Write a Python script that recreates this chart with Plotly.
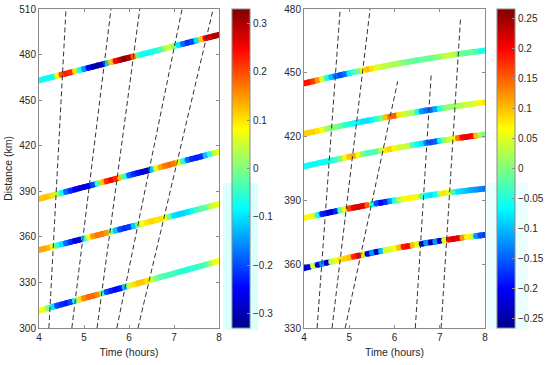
import plotly.graph_objects as go
from plotly.colors import sample_colorscale

# ---------------- data ----------------
time_h = [4.0, 4.1, 4.2, 4.3, 4.4, 4.5, 4.6, 4.7, 4.8, 4.9,
          5.0, 5.1, 5.2, 5.3, 5.4, 5.5, 5.6, 5.7, 5.8, 5.9,
          6.0, 6.1, 6.2, 6.3, 6.4, 6.5, 6.6, 6.7, 6.8, 6.9,
          7.0, 7.1, 7.2, 7.3, 7.4, 7.5, 7.6, 7.7, 7.8, 7.9, 8.0]

# left panel: distances (km)
left_d1 = [463.0, 463.8, 464.5, 465.3, 466.0, 466.8, 467.5, 468.3, 469.0, 469.8,
           470.5, 471.3, 472.0, 472.8, 473.5, 474.3, 475.0, 475.8, 476.5, 477.3,
           478.0, 478.8, 479.5, 480.3, 481.0, 481.8, 482.5, 483.3, 484.0, 484.8,
           485.5, 486.3, 487.0, 487.8, 488.5, 489.3, 490.0, 490.8, 491.5, 492.3, 493.0]
left_d2 = [385.0, 385.8, 386.6, 387.3, 388.1, 388.9, 389.7, 390.4, 391.2, 392.0,
           392.8, 393.5, 394.3, 395.1, 395.9, 396.6, 397.4, 398.2, 399.0, 399.7,
           400.5, 401.3, 402.1, 402.8, 403.6, 404.4, 405.2, 405.9, 406.7, 407.5,
           408.3, 409.0, 409.8, 410.6, 411.4, 412.1, 412.9, 413.7, 414.5, 415.2, 416.0]
left_d3 = [351.3, 352.1, 352.8, 353.6, 354.3, 355.1, 355.8, 356.6, 357.4, 358.1,
           358.9, 359.6, 360.4, 361.1, 361.9, 362.7, 363.4, 364.2, 364.9, 365.7,
           366.5, 367.2, 368.0, 368.7, 369.5, 370.2, 371.0, 371.8, 372.5, 373.3,
           374.0, 374.8, 375.5, 376.3, 377.1, 377.8, 378.6, 379.3, 380.1, 380.8, 381.6]
left_d4 = [311.4, 312.2, 313.0, 313.9, 314.7, 315.5, 316.3, 317.1, 317.9, 318.8,
           319.6, 320.4, 321.2, 322.0, 322.9, 323.7, 324.5, 325.3, 326.1, 326.9,
           327.8, 328.6, 329.4, 330.2, 331.0, 331.8, 332.7, 333.5, 334.3, 335.1,
           335.9, 336.8, 337.6, 338.4, 339.2, 340.0, 340.8, 341.7, 342.5, 343.3, 344.1]

# left panel: colour values
left_c1 = [-0.08, -0.08, -0.08, -0.08, 0.08, 0.20, 0.23, 0.22, 0.10, -0.07,
           -0.15, -0.25, -0.30, -0.31, -0.28, -0.12, 0.12, 0.25, 0.30, 0.32,
           0.30, 0.18, -0.04, -0.07, -0.08, -0.07, -0.06, -0.04, 0.02, 0.06,
           0.00, -0.10, -0.18, -0.22, -0.20, -0.10, 0.12, 0.25, 0.28, 0.30, 0.30]
left_c2 = [0.12, 0.12, 0.12, 0.10, 0.03, -0.08, -0.18, -0.22, -0.26, -0.28,
           -0.27, -0.26, -0.20, -0.05, 0.12, 0.22, 0.25, 0.22, 0.12, -0.05,
           -0.18, -0.22, -0.24, -0.28, -0.29, -0.12, 0.06, 0.14, 0.17, 0.18,
           0.17, 0.08, -0.06, -0.18, -0.22, -0.23, -0.22, -0.12, -0.05, 0.04, 0.08]
left_c3 = [0.14, 0.14, 0.13, 0.07, -0.05, -0.10, -0.18, -0.22, -0.27, -0.27,
           -0.08, 0.07, 0.15, 0.17, 0.17, 0.15, 0.00, -0.12, -0.20, -0.22,
           -0.21, -0.12, 0.00, 0.08, 0.10, 0.11, 0.10, 0.10, 0.08, -0.02,
           -0.10, -0.11, -0.11, -0.10, -0.08, -0.04, -0.03, -0.02, 0.03, 0.06, 0.07]
left_c4 = [0.08, 0.08, 0.00, -0.10, -0.20, -0.22, -0.23, -0.20, -0.05, 0.10,
           0.16, 0.18, 0.18, 0.16, -0.02, -0.20, -0.23, -0.25, -0.24, -0.12,
           0.05, 0.10, 0.12, 0.12, 0.10, 0.05, 0.00, -0.03, -0.03, -0.04,
           -0.04, -0.05, -0.06, -0.06, -0.05, -0.05, -0.04, -0.03, 0.02, 0.07, 0.08]

# right panel: distances (km)
right_d1 = [445.0, 445.5, 446.0, 446.5, 447.0, 447.5, 448.0, 448.4, 448.9, 449.4,
            449.8, 450.3, 450.7, 451.1, 451.6, 452.0, 452.4, 452.8, 453.2, 453.6,
            454.0, 454.4, 454.8, 455.1, 455.5, 455.9, 456.2, 456.6, 456.9, 457.2,
            457.6, 457.9, 458.2, 458.5, 458.8, 459.1, 459.4, 459.7, 460.0, 460.2, 460.5]
right_d2 = [421.3, 421.8, 422.2, 422.7, 423.2, 423.6, 424.1, 424.5, 425.0, 425.4,
            425.8, 426.2, 426.7, 427.1, 427.5, 427.9, 428.3, 428.7, 429.0, 429.4,
            429.8, 430.2, 430.5, 430.9, 431.2, 431.6, 431.9, 432.3, 432.6, 432.9,
            433.2, 433.5, 433.8, 434.1, 434.4, 434.7, 435.0, 435.3, 435.6, 435.8, 436.1]
right_d3 = [406.0, 406.5, 406.9, 407.4, 407.9, 408.3, 408.8, 409.2, 409.6, 410.1,
            410.5, 410.9, 411.3, 411.8, 412.2, 412.6, 413.0, 413.4, 413.7, 414.1,
            414.5, 414.9, 415.2, 415.6, 416.0, 416.3, 416.7, 417.0, 417.3, 417.7,
            418.0, 418.3, 418.6, 419.0, 419.3, 419.6, 419.9, 420.2, 420.4, 420.7, 421.0]
right_d4 = [381.7, 382.2, 382.7, 383.1, 383.6, 384.0, 384.5, 384.9, 385.4, 385.8,
            386.2, 386.6, 387.0, 387.4, 387.8, 388.2, 388.6, 388.9, 389.3, 389.7,
            390.0, 390.3, 390.7, 391.0, 391.3, 391.6, 391.9, 392.2, 392.5, 392.8,
            393.1, 393.4, 393.6, 393.9, 394.1, 394.4, 394.6, 394.9, 395.1, 395.3, 395.5]
right_d5 = [358.1, 358.6, 359.2, 359.7, 360.2, 360.7, 361.2, 361.7, 362.2, 362.6,
            363.1, 363.6, 364.0, 364.5, 364.9, 365.3, 365.8, 366.2, 366.6, 367.0,
            367.4, 367.8, 368.2, 368.5, 368.9, 369.3, 369.6, 370.0, 370.3, 370.6,
            371.0, 371.3, 371.6, 371.9, 372.2, 372.5, 372.8, 373.0, 373.3, 373.5, 373.8]

# right panel: colour values
right_c1 = [0.19, 0.19, 0.17, 0.12, 0.05, -0.05, -0.10, -0.14, -0.16, -0.14,
            -0.07, -0.03, -0.01, 0.07, 0.10, 0.08, 0.05, 0.04, 0.03, 0.03,
            0.02, 0.02, 0.00, -0.01, -0.01, -0.02, -0.01, -0.01, -0.01, 0.00,
            0.01, 0.03, 0.04, 0.03, 0.00, -0.01, -0.02, -0.01, -0.03, -0.05, -0.05]
right_c2 = [0.09, 0.09, 0.09, 0.08, 0.06, 0.02, 0.00, 0.00, -0.01, -0.04,
            -0.05, -0.06, -0.07, -0.08, -0.08, -0.07, -0.04, -0.01, 0.10, 0.14,
            0.15, 0.08, 0.04, 0.03, 0.02, -0.05, -0.12, -0.14, -0.14, -0.11,
            -0.05, 0.00, 0.01, 0.01, 0.02, 0.03, 0.04, 0.04, 0.05, 0.07, 0.08]
right_c3 = [-0.06, -0.06, -0.06, -0.06, -0.06, -0.06, -0.05, -0.03, -0.01, 0.07,
            0.10, 0.11, 0.06, 0.00, -0.03, -0.03, -0.02, 0.03, 0.08, 0.09,
            0.07, 0.04, 0.04, 0.03, -0.03, -0.06, -0.08, -0.13, -0.16, -0.15,
            -0.07, 0.01, 0.04, 0.06, 0.14, 0.20, 0.21, 0.20, 0.10, 0.02, -0.01]
right_c4 = [0.07, 0.07, 0.05, -0.06, -0.18, -0.21, -0.22, -0.18, -0.02, 0.07,
            0.17, 0.21, 0.22, 0.21, 0.15, -0.05, -0.16, -0.20, -0.18, -0.12,
            -0.05, 0.03, 0.06, 0.07, 0.07, 0.06, -0.02, -0.07, -0.08, -0.06,
            0.03, 0.08, 0.05, -0.04, -0.08, -0.09, -0.10, -0.11, -0.12, -0.13, -0.14]
right_c5 = [-0.24, -0.20, 0.06, -0.22, -0.12, -0.24, 0.03, 0.06, 0.08, 0.09,
            0.10, 0.18, 0.21, 0.08, -0.22, -0.12, -0.24, -0.10, 0.04, 0.05,
            0.06, 0.10, 0.19, 0.20, 0.10, 0.05, -0.22, -0.12, -0.25, -0.12,
            -0.24, 0.05, 0.20, 0.22, 0.21, 0.12, 0.07, 0.04, -0.12, -0.16, -0.17]

# dashed reference lines: (start time, start distance) -> (end time, end distance)
left_dash_t0 = [4.22, 4.73, 5.29, 5.73, 6.20]
left_dash_d0 = [300, 300, 300, 300, 300]
left_dash_t1 = [4.60, 5.60, 6.24, 7.18, 7.87]
left_dash_d1 = [510, 510, 510, 510, 510]

right_dash_t0 = [4.29, 4.62, 4.91, 6.46, 7.03]
right_dash_d0 = [330, 330, 330, 330, 330]
right_dash_t1 = [4.80, 5.46, 6.07, 6.81, 7.46]
right_dash_d1 = [480, 480, 446, 449, 476]

x_ticks = [4, 5, 6, 7, 8]
left_y_ticks = [300, 330, 360, 390, 420, 450, 480, 510]
right_y_ticks = [330, 360, 390, 420, 450, 480]
left_cb_ticks = [-0.3, -0.2, -0.1, 0, 0.1, 0.2, 0.3]
left_cb_text = ["\u22120.3", "\u22120.2", "\u22120.1", "0", "0.1", "0.2", "0.3"]
right_cb_ticks = [-0.25, -0.2, -0.15, -0.1, -0.05, 0, 0.05, 0.1, 0.15, 0.2, 0.25]
right_cb_text = ["\u22120.25", "\u22120.2", "\u22120.15", "\u22120.1", "\u22120.05", "0",
                 "0.05", "0.1", "0.15", "0.2", "0.25"]

LEFT_RANGE = (-0.33, 0.33)
RIGHT_RANGE = (-0.265, 0.265)

# ---------------- figure ----------------
FONT = "Liberation Sans, Arial, Helvetica, sans-serif"
TXT = "#262626"
AXC = "#8a8a8a"
LW = 5.8
jet = [[0.0, "rgb(0,0,140)"], [0.125, "rgb(0,0,255)"], [0.375, "rgb(0,255,255)"],
       [0.625, "rgb(255,255,0)"], [0.875, "rgb(255,0,0)"], [1.0, "rgb(128,0,0)"]]


def seg_color(v, rng):
    f = (v - rng[0]) / (rng[1] - rng[0])
    f = min(max(f, 0.0), 1.0)
    return sample_colorscale(jet, [f])[0]


fig = go.Figure()


def add_curve(t, d, c, xa, ya, rng, cax):
    for i in range(len(t) - 1):
        v = 0.5 * (c[i] + c[i + 1])
        fig.add_trace(go.Scatter(x=[t[i], t[i + 1]], y=[d[i], d[i + 1]], mode="lines",
                                 xaxis=xa, yaxis=ya,
                                 line=dict(color=seg_color(v, rng), width=LW),
                                 showlegend=False, hoverinfo="skip"))
    fig.add_trace(go.Scatter(x=t, y=d, mode="markers", xaxis=xa, yaxis=ya,
                             marker=dict(size=LW, color=c, coloraxis=cax, line=dict(width=0)),
                             showlegend=False, hoverinfo="skip"))


for d, c in [(left_d1, left_c1), (left_d2, left_c2), (left_d3, left_c3), (left_d4, left_c4)]:
    add_curve(time_h, d, c, "x", "y", LEFT_RANGE, "coloraxis")
for d, c in [(right_d1, right_c1), (right_d2, right_c2), (right_d3, right_c3),
             (right_d4, right_c4), (right_d5, right_c5)]:
    add_curve(time_h, d, c, "x2", "y2", RIGHT_RANGE, "coloraxis2")

dash_style = dict(color="#333333", width=1.0, dash="5px,3px")
for t0, d0, t1, d1 in zip(left_dash_t0, left_dash_d0, left_dash_t1, left_dash_d1):
    fig.add_trace(go.Scatter(x=[t0, t1], y=[d0, d1], mode="lines", xaxis="x", yaxis="y",
                             line=dash_style, showlegend=False, hoverinfo="skip"))
for t0, d0, t1, d1 in zip(right_dash_t0, right_dash_d0, right_dash_t1, right_dash_d1):
    fig.add_trace(go.Scatter(x=[t0, t1], y=[d0, d1], mode="lines", xaxis="x2", yaxis="y2",
                             line=dash_style, showlegend=False, hoverinfo="skip"))

W, H = 550, 365
ydom = [37 / H, 356 / H]
axis_common = dict(showline=True, linecolor=AXC, linewidth=1, mirror="ticks",
                   ticks="inside", ticklen=3, tickcolor=AXC, showgrid=False, zeroline=False,
                   automargin=False,
                   tickfont=dict(family=FONT, size=10, color=TXT))

cb_common = dict(thickness=18, thicknessmode="pixels", len=319 / H, lenmode="fraction",
                 y=37 / H, yanchor="bottom", xanchor="left", xpad=0, ypad=0,
                 outlinecolor=AXC, outlinewidth=1, ticks="inside", ticklen=3, tickcolor=AXC,
                 tickfont=dict(family=FONT, size=10, color=TXT))

# faint tinted background patches seen beside the lower halves of the colour bars
tint_shapes = [
    dict(type="rect", xref="paper", yref="paper", x0=223 / W, x1=258 / W,
         y0=1 - 330 / H, y1=1 - 183 / H, fillcolor="rgba(0,255,255,0.15)",
         line=dict(width=0), layer="below"),
    dict(type="rect", xref="paper", yref="paper", x0=487 / W, x1=528 / W,
         y0=1 - 330 / H, y1=1 - 183 / H, fillcolor="rgba(0,255,255,0.08)",
         line=dict(width=0), layer="below"),
]

fig.update_layout(
    width=W, height=H,
    margin=dict(l=0, r=0, t=0, b=0, autoexpand=False),
    paper_bgcolor="white", plot_bgcolor="rgba(0,0,0,0)",
    font=dict(family=FONT, size=10, color=TXT),
    shapes=tint_shapes,
    xaxis=dict(domain=[39 / W, 219 / W], range=[4, 8], tickvals=x_ticks, anchor="y",
               title=dict(text="Time (hours)", font=dict(size=10.5), standoff=6), **axis_common),
    yaxis=dict(domain=ydom, range=[300, 510], tickvals=left_y_ticks, anchor="x",
               title=dict(text="Distance (km)", font=dict(size=10.5), standoff=4), **axis_common),
    xaxis2=dict(domain=[304 / W, 485 / W], range=[4, 8], tickvals=x_ticks, anchor="y2",
                title=dict(text="Time (hours)", font=dict(size=10.5), standoff=6), **axis_common),
    yaxis2=dict(domain=ydom, range=[330, 480], tickvals=right_y_ticks, anchor="x2", **axis_common),
    coloraxis=dict(colorscale=jet, cmin=LEFT_RANGE[0], cmax=LEFT_RANGE[1],
                   colorbar=dict(x=232 / W, tickvals=left_cb_ticks, ticktext=left_cb_text, **cb_common)),
    coloraxis2=dict(colorscale=jet, cmin=RIGHT_RANGE[0], cmax=RIGHT_RANGE[1],
                    colorbar=dict(x=497 / W, tickvals=right_cb_ticks, ticktext=right_cb_text, **cb_common)),
)

fig.write_html("out.html", config={"displayModeBar": False},
               post_script="document.body.style.margin='0px';document.body.style.padding='0px';")
